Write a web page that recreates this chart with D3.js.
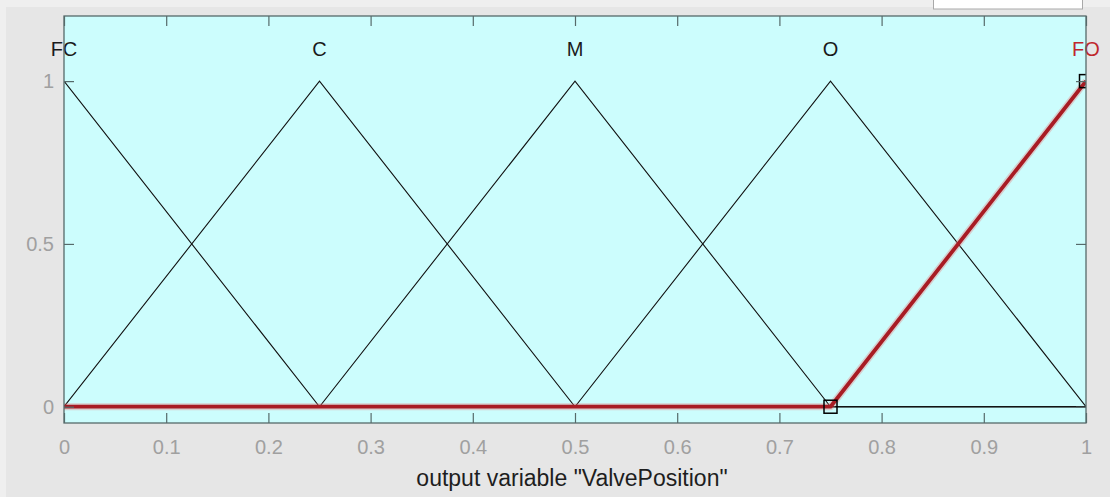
<!DOCTYPE html>
<html>
<head>
<meta charset="utf-8">
<script src="https://cdn.jsdelivr.net/npm/d3@7"></script>
<style>
  html, body { margin: 0; padding: 0; background: #ececec; }
  svg { display: block; }
  text { font-family: "Liberation Sans", Arial, sans-serif; }
</style>
</head>
<body>
<svg id="chart" width="1110" height="497"></svg>
<script>
// ---- data ----
const mfNames = ["FC", "C", "M", "O", "FO"];
const mfPeakX = [0, 0.25, 0.5, 0.75, 1];
const fcPoints = [[0, 1], [0.25, 0], [1, 0]];
const cPoints = [[0, 0], [0.25, 1], [0.5, 0], [1, 0]];
const mPoints = [[0, 0], [0.25, 0], [0.5, 1], [0.75, 0], [1, 0]];
const oPoints = [[0, 0], [0.5, 0], [0.75, 1], [1, 0]];
const foPoints = [[0, 0], [0.75, 0], [1, 1]];
const mfPoints = [fcPoints, cPoints, mPoints, oPoints, foPoints];
const highlighted = "FO";
const markerPoints = [[0.75, 0], [1, 1]];
const xTicks = [0, 0.1, 0.2, 0.3, 0.4, 0.5, 0.6, 0.7, 0.8, 0.9, 1];
const xTickLabels = ["0", "0.1", "0.2", "0.3", "0.4", "0.5", "0.6", "0.7", "0.8", "0.9", "1"];
const yTicks = [0, 0.5, 1];
const yTickLabels = ["0", "0.5", "1"];
const xLabel = 'output variable "ValvePosition"';
const xDomain = [0, 1];
const yDomain = [-0.05, 1.2];

// ---- layout ----
const W = 1110, H = 497;
const margin = { left: 64, right: 24, top: 16, bottom: 74 };
const svg = d3.select("#chart");

// background bands
svg.append("rect").attr("x", 0).attr("y", 0).attr("width", W).attr("height", H).attr("fill", "#efefef");
svg.append("rect").attr("x", 6).attr("y", 7).attr("width", W - 6).attr("height", H - 7).attr("fill", "#e6e6e6");
// white box at top right
svg.append("rect").attr("x", 933.5).attr("y", -2).attr("width", 149).attr("height", 11)
  .attr("fill", "#ffffff").attr("stroke", "#a9a9a9").attr("stroke-width", 1);

const x = d3.scaleLinear().domain(xDomain).range([margin.left, W - margin.right]);
const y = d3.scaleLinear().domain(yDomain).range([H - margin.bottom, margin.top]);

const pw = W - margin.left - margin.right, ph = H - margin.top - margin.bottom;

svg.append("rect").attr("x", margin.left).attr("y", margin.top).attr("width", pw).attr("height", ph)
  .attr("fill", "#ccfdfd");

svg.append("clipPath").attr("id", "clip").append("rect")
  .attr("x", margin.left).attr("y", margin.top).attr("width", pw).attr("height", ph);

const plot = svg.append("g").attr("clip-path", "url(#clip)");
const line = d3.line().x(d => x(d[0])).y(d => y(d[1]));

// black membership functions
mfPoints.forEach((pts, i) => {
  plot.append("path").attr("d", line(pts)).attr("fill", "none")
    .attr("stroke", "#111").attr("stroke-width", 1.1);
});

// highlighted mf
const hi = mfNames.indexOf(highlighted);
plot.append("path").attr("d", line(mfPoints[hi])).attr("fill", "none")
  .attr("stroke", "rgba(235,120,120,0.35)").attr("stroke-width", 7).attr("stroke-linejoin", "round");
plot.append("path").attr("d", line(mfPoints[hi])).attr("fill", "none")
  .attr("stroke", "#a81c24").attr("stroke-width", 3.8).attr("stroke-linejoin", "round");

// markers
plot.selectAll("rect.marker").data(markerPoints).enter().append("rect")
  .attr("class", "marker")
  .attr("x", d => x(d[0]) - 6.5).attr("y", d => y(d[1]) - 6.5)
  .attr("width", 13).attr("height", 13)
  .attr("fill", "none").attr("stroke", "#000").attr("stroke-width", 1.5);

// mf labels
svg.selectAll("text.mf").data(mfNames).enter().append("text")
  .attr("class", "mf")
  .attr("x", (d, i) => x(mfPeakX[i]))
  .attr("y", 56)
  .attr("text-anchor", "middle")
  .attr("font-size", 20)
  .attr("fill", d => d === highlighted ? "#c0272d" : "#1a1a1a")
  .text(d => d);

// axes
const axisColor = "#566a6a";
const gx = svg.append("g").attr("transform", `translate(0,${H - margin.bottom})`)
  .call(d3.axisBottom(x).tickValues(xTicks).tickSize(-10).tickPadding(17)
    .tickFormat((d, i) => xTickLabels[i]));
const gxt = svg.append("g").attr("transform", `translate(0,${margin.top})`)
  .call(d3.axisTop(x).tickValues(xTicks).tickSize(-10).tickFormat(""));
const gy = svg.append("g").attr("transform", `translate(${margin.left},0)`)
  .call(d3.axisLeft(y).tickValues(yTicks).tickSize(-10).tickPadding(10)
    .tickFormat((d, i) => yTickLabels[i]));
const gyr = svg.append("g").attr("transform", `translate(${W - margin.right},0)`)
  .call(d3.axisRight(y).tickValues(yTicks).tickSize(-10).tickFormat(""));

[gx, gxt, gy, gyr].forEach(g => {
  g.select(".domain").remove();
  g.selectAll(".tick line").attr("stroke", axisColor).attr("stroke-width", 1.2);
  g.selectAll(".tick text").attr("fill", "#a0a0a0").attr("font-size", 20)
    .attr("font-family", '"Liberation Sans", Arial, sans-serif');
});

svg.append("rect").attr("x", margin.left).attr("y", margin.top).attr("width", pw).attr("height", ph)
  .attr("fill", "none").attr("stroke", axisColor).attr("stroke-width", 1.3);

// x label
svg.append("text")
  .attr("x", (margin.left + W - margin.right) / 2 - 3)
  .attr("y", 486)
  .attr("text-anchor", "middle")
  .attr("font-size", 23)
  .attr("fill", "#1e1e1e")
  .text(xLabel);
</script>
</body>
</html>
